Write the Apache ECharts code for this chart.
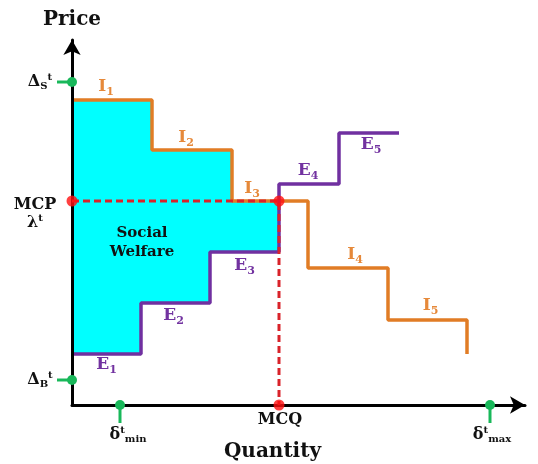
<!DOCTYPE html>
<html><head><meta charset="utf-8">
<script src="https://cdn.jsdelivr.net/npm/echarts@6/dist/echarts.min.js"></script>
<style>html,body{margin:0;padding:0;background:#fff}#c{width:538px;height:464px}</style>
</head><body><div id="c"></div>
<script>
// ---- Data (arbitrary schematic units) ----
// Demand offers I1..I5 : step breakpoints on quantity and price of each step
const demandBreaks = [0, 8, 16, 23.6, 31.6, 39.5];
const demandPrices = [30.5, 25.5, 20.4, 13.7, 8.5];
const demandEndPrice = 5.1;
const demandNames = ['1', '2', '3', '4', '5'];
// Supply offers E1..E5
const supplyBreaks = [0, 6.9, 13.8, 20.7, 26.7, 32.7];
const supplyPrices = [5.1, 10.2, 15.3, 22.1, 27.2];
const supplyNames = ['1', '2', '3', '4', '5'];
// Market clearing price / quantity
const mcp = 20.4;
const mcq = 20.7;
// Price bounds (Δ_S, Δ_B) and quantity bounds (δ_min, δ_max)
const priceBounds = [32.3, 2.5];
const priceBoundNames = ['S', 'B'];
const quantityBounds = [4.8, 41.8];
const quantityBoundNames = ['min', 'max'];

// ---- Styling / layout ----
const ORANGE = '#E17C25', ORANGE_T = '#E6893A';
const PURPLE = '#7030A0', PURPLE_T = '#7232A0';
const RED = '#FF1010', DASH_RED = '#D9232A';
const GREEN = '#19B85A', CYAN = '#00FFFF';
const FONT = 'DejaVu Serif';
const demandLabelOffsets = [[-6, -13], [-6, -12], [-18, -12], [7, -13], [3, -14]];
const supplyLabelOffsets = [[0, 11], [-2, 13], [0, 14], [-1, -13], [2, 12]];

function stepPoints(breaks, prices, endPrice) {
  const pts = [];
  for (let i = 0; i < prices.length; i++) {
    pts.push([breaks[i], prices[i]], [breaks[i + 1], prices[i]]);
  }
  if (endPrice !== undefined) pts.push([breaks[breaks.length - 1], endPrice]);
  return pts;
}
function clipSteps(breaks, prices, xMax) {
  const pts = [];
  for (let i = 0; i < prices.length; i++) {
    if (breaks[i] >= xMax) break;
    pts.push([breaks[i], prices[i]], [Math.min(breaks[i + 1], xMax), prices[i]]);
  }
  return pts;
}
const demandLine = stepPoints(demandBreaks, demandPrices, demandEndPrice);
const supplyLine = stepPoints(supplyBreaks, supplyPrices);
const welfarePoly = clipSteps(demandBreaks, demandPrices, mcq)
  .concat(clipSteps(supplyBreaks, supplyPrices, mcq).reverse());

const main = (size, color) => ({fontSize: size, fontFamily: FONT, fontWeight: 'bold', fill: color});
function subRich(color, size, pad) {
  return {
    m: Object.assign(main(17, color), {lineHeight: 17}),
    s: Object.assign(main(size || 11, color), {lineHeight: size || 11, padding: [pad || 10, 0, 0, 0]}),
    u: Object.assign(main(10, color), {lineHeight: 10, padding: [0, 0, 9, 0]}),
    b: Object.assign(main(16, color), {lineHeight: 16})
  };
}

// annotations: anchor (data coords) + pixel offset + rich text
const annotations = [];
demandNames.forEach((n, i) => annotations.push({
  at: [(demandBreaks[i] + demandBreaks[i + 1]) / 2, demandPrices[i]], off: demandLabelOffsets[i],
  text: '{m|I}{s|' + n + '}', rich: subRich(ORANGE_T)
}));
supplyNames.forEach((n, i) => annotations.push({
  at: [(supplyBreaks[i] + supplyBreaks[i + 1]) / 2, supplyPrices[i]], off: supplyLabelOffsets[i],
  text: '{m|E}{s|' + n + '}', rich: subRich(PURPLE_T)
}));
annotations.push({at: [0, mcp], off: [-37, 4], text: '{b|MCP}', rich: subRich('#111')});
annotations.push({at: [0, mcp], off: [-37, 22], text: '{b|λ}{u|t}', rich: subRich('#111')});
priceBoundNames.forEach((n, i) => annotations.push({
  at: [0, priceBounds[i]], off: [-32, 0],
  text: '{b|Δ}{s|' + n + '}{u|t}', rich: subRich('#111', 10, 8)
}));
quantityBoundNames.forEach((n, i) => annotations.push({
  at: [quantityBounds[i], 0], off: [i === 0 ? 8 : 2, 30],
  text: '{b|δ}{u|t}{s|' + n + '}', rich: subRich('#111', 10, 8)
}));
annotations.push({at: [mcq, 0], off: [1, 15], text: '{b|MCQ}', rich: subRich('#111')});
annotations.push({at: [supplyBreaks[1], mcp], off: [1, 42], text: '{w|Social}\n{w|Welfare}',
  rich: {w: Object.assign(main(15, '#111'), {lineHeight: 19})}});

const chart = echarts.init(document.getElementById('c'));
const axisCommon = {
  type: 'value', min: 0, z: 3,
  axisLine: {show: true, symbol: ['none', 'arrow'], symbolSize: [13, 15], lineStyle: {color: '#000', width: 3}},
  axisTick: {show: false}, axisLabel: {show: false}, splitLine: {show: false}
};
chart.setOption({
  animation: false,
  grid: {left: 72, right: 13, top: 40, bottom: 59, containLabel: false, outerBoundsMode: 'none'},
  xAxis: Object.assign({}, axisCommon, {max: 45.3, name: 'Quantity', nameLocation: 'middle', nameGap: 37,
    nameTextStyle: {fontFamily: FONT, fontWeight: 'bold', fontSize: 20, color: '#111', padding: [0, 52, 0, 0]}}),
  yAxis: Object.assign({}, axisCommon, {max: 36.5, name: 'Price', nameLocation: 'end', nameGap: 10,
    nameTextStyle: {fontFamily: FONT, fontWeight: 'bold', fontSize: 20, color: '#111', align: 'center'}}),
  series: [
    {type: 'custom', z: 1, clip: false, data: [[0, 0]],
      renderItem: (p, api) => ({type: 'polygon', shape: {points: welfarePoly.map(pt => api.coord(pt))},
        style: {fill: CYAN}})},
    {type: 'line', z: 2, data: demandLine, showSymbol: false, lineStyle: {color: ORANGE, width: 3.5}},
    {type: 'line', z: 2, data: supplyLine, showSymbol: false, lineStyle: {color: PURPLE, width: 3.5}},
    {type: 'line', z: 4, data: [[0, mcp], [mcq, mcp], [mcq, 0]], showSymbol: false,
      lineStyle: {color: DASH_RED, width: 3, type: [7, 4]}},
    {type: 'custom', z: 5, clip: false,
      data: priceBounds.map(p => [0, p]).concat(quantityBounds.map(q => [q, 0])),
      renderItem: (p, api) => {
        const c = api.coord([api.value(0), api.value(1)]);
        const isPrice = p.dataIndex < priceBounds.length;
        const end = isPrice ? [c[0] - 15, c[1]] : [c[0], c[1] + 18];
        return {type: 'group', children: [
          {type: 'line', shape: {x1: c[0], y1: c[1], x2: end[0], y2: end[1]}, style: {stroke: GREEN, lineWidth: 3}},
          {type: 'circle', shape: {cx: c[0], cy: c[1], r: 5}, style: {fill: GREEN}}
        ]};
      }},
    {type: 'scatter', z: 6, clip: false, data: [[0, mcp], [mcq, mcp], [mcq, 0]], symbolSize: 11,
      itemStyle: {color: RED}},
    {type: 'custom', z: 7, clip: false, data: annotations.map(a => a.at),
      renderItem: (p, api) => {
        const a = annotations[p.dataIndex];
        const c = api.coord(a.at);
        return {type: 'text', x: c[0] + a.off[0], y: c[1] + a.off[1],
          style: {text: a.text, rich: a.rich, align: 'center', verticalAlign: 'middle',
            fontFamily: FONT, fontWeight: 'bold', fontSize: 16, fill: '#111'}};
      }}
  ]
});
</script></body></html>
